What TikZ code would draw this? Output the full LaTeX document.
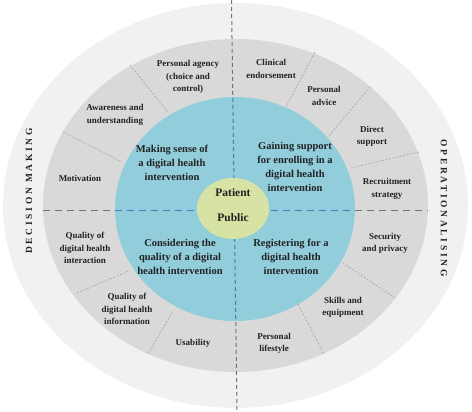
\documentclass[tikz,border=0pt]{standalone}
\usepackage{fontspec}
\setmainfont{Liberation Serif}
\usepackage{tikz}

\definecolor{ringout}{HTML}{F1F1F1}
\definecolor{ringmid}{HTML}{D9D9D9}
\definecolor{coreblue}{HTML}{92CDDC}
\definecolor{coregreen}{HTML}{D6E3A4}
\definecolor{splitblue}{HTML}{3F7DBD}
\definecolor{inkdark}{HTML}{222222}

\begin{document}
\begin{tikzpicture}[x=1pt,y=-1pt,
  factor/.style={font=\bfseries\fontsize{9}{12.3}\selectfont,align=center,text=inkdark},
  stage/.style={font=\bfseries\fontsize{10.5}{14}\selectfont,align=center,text=inkdark},
  hub/.style={font=\bfseries\fontsize{11.5}{14}\selectfont,text=inkdark},
  side/.style={font=\bfseries\fontsize{9.5}{11}\selectfont\addfontfeature{LetterSpace=28},text=inkdark},
  sep/.style={gray!80,dash pattern=on 2pt off 1.6pt,line width=0.5pt},
  axisgray/.style={gray!90!black,line width=1pt},
  axisblue/.style={splitblue,line width=1pt}]

  \useasboundingbox (0,0) rectangle (472,412);

  \coordinate (mid) at (235.5,205.5);
  \coordinate (core) at (235,209);
  \coordinate (hubc) at (233,208.5);

  %% rings
  \fill[ringout] (mid) ellipse [x radius=232.5pt, y radius=202.5pt];
  \fill[ringmid] (mid) ellipse [x radius=192.5pt, y radius=166.5pt];

  %% factor borders
  \draw[sep] (130,65) -- (168,112);   % agency | awareness
  \draw[sep] (63,132) -- (122,162);   % awareness | motivation
  \draw[sep] (315,52) -- (286,107);   % clinical | advice
  \draw[sep] (370,87) -- (328,137);   % advice | direct
  \draw[sep] (419,152) -- (351,168);  % direct | recruitment
  \draw[sep] (77,293) -- (129,271);   % interaction | information
  \draw[sep] (148,354) -- (173,311);  % information | usability
  \draw[sep] (343,263) -- (395,298);  % security | skills
  \draw[sep] (298,304) -- (324,354);  % skills | lifestyle

  %% quarter lines
  \draw[axisgray,dash pattern=on 4pt off 3pt] (231.5,0) -- (237,412);
  \draw[axisgray,dash pattern=on 7pt off 5pt] (43,210.5) -- (428,210.5);

  \fill[coreblue] (core) ellipse [x radius=120pt, y radius=112pt];
  \begin{scope}
    \clip (core) ellipse [x radius=120pt, y radius=112pt];
    \draw[axisblue,dash pattern=on 4pt off 3pt] (231.5,0) -- (237,412);
    \draw[axisblue,dash pattern=on 7pt off 5pt] (43,210.5) -- (428,210.5);
  \end{scope}

  \fill[coregreen] (hubc) ellipse [x radius=36pt, y radius=30.5pt];

  %% centre
  \node[hub] (patient) at (233,193) {Patient};
  \node[hub] (public) at (233,218) {Public};

  %% stages
  \node[stage] (sense) at (172,163) {Making sense of\\a digital health\\intervention};
  \node[stage] (support) at (295,167) {Gaining support\\for enrolling in a\\digital health\\intervention};
  \node[stage] (quality) at (180,257) {Considering the\\quality of a digital\\health intervention};
  \node[stage] (register) at (291,257) {Registering for a\\digital health\\intervention};

  %% factors, decision making side
  \node[factor] (agency) at (188,77) {Personal agency\\(choice and\\control)};
  \node[factor] (aware) at (115,115) {Awareness and\\understanding};
  \node[factor] (motiv) at (80,178) {Motivation};
  \node[factor] (qinter) at (85,248) {Quality of\\digital health\\interaction};
  \node[factor] (qinfo) at (127,309) {Quality of\\digital health\\information};
  \node[factor] (usab) at (193,343) {Usability};

  %% factors, operationalising side
  \node[factor] (clinic) at (271,69) {Clinical\\endorsement};
  \node[factor] (advice) at (324,96) {Personal\\advice};
  \node[factor] (direct) at (372,136) {Direct\\support};
  \node[factor] (recruit) at (387,189) {Recruitment\\strategy};
  \node[factor] (secure) at (385,243) {Security\\and privacy};
  \node[factor] (skills) at (343,307) {Skills and\\equipment};
  \node[factor] (life) at (274,343) {Personal\\lifestyle};

  %% sides
  \node[side,rotate=90] (decide) at (29,191) {DECISION MAKING};
  \node[side,rotate=-90] (operate) at (444,208) {OPERATIONALISING};

\end{tikzpicture}
\end{document}
